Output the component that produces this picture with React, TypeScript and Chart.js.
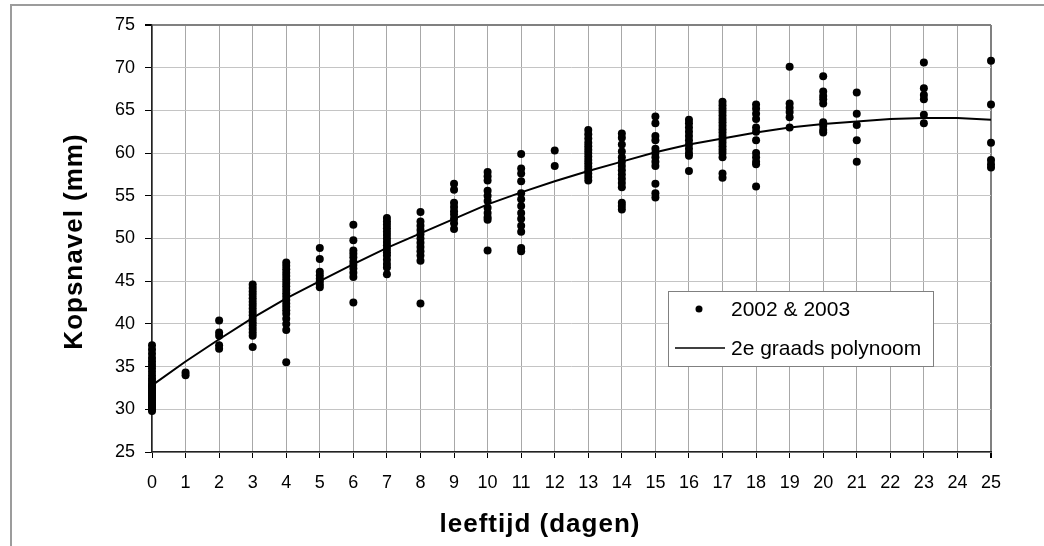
import React, { useEffect, useRef } from "react";
import { Chart, registerables } from "chart.js";

Chart.register(...registerables);

const FONT = '"Liberation Sans", Arial, Helvetica, sans-serif';

// Days (leeftijd) for each scatter column
const scatterDays = [0, 1, 2, 3, 4, 5, 6, 7, 8, 9, 10, 11, 12, 13, 14, 15, 16, 17, 18, 19, 20, 21, 23, 25];

// Kopsnavel (mm) measurements per day column (same order as scatterDays)
const day0 = [29.8, 30.0, 30.2, 30.4, 30.6, 30.8, 31.0, 31.2, 31.4, 31.6, 31.8, 32.0, 32.2, 32.4, 32.6, 32.8, 33.0, 33.3, 33.6, 34.0, 34.4, 34.8, 35.2, 35.6, 36.0, 36.5, 37.0, 37.5];
const day1 = [34.0, 34.3];
const day2 = [40.4, 39.0, 38.6, 37.5, 37.1];
const day3 = [44.6, 44.2, 43.8, 43.4, 43.0, 42.6, 42.2, 41.8, 41.4, 41.0, 40.6, 40.2, 39.8, 39.4, 39.0, 38.6, 37.3];
const day4 = [47.2, 46.8, 46.4, 46.0, 45.6, 45.2, 44.8, 44.4, 44.0, 43.6, 43.2, 42.8, 42.4, 42.0, 41.6, 41.2, 40.6, 40.0, 39.3, 35.5];
const day5 = [48.9, 47.6, 46.1, 45.7, 45.3, 45.0, 44.6, 44.3];
const day6 = [51.6, 49.8, 48.6, 48.2, 47.8, 47.3, 46.9, 46.5, 46.0, 45.5, 42.5];
const day7 = [52.4, 52.0, 51.6, 51.2, 50.8, 50.4, 50.0, 49.6, 49.2, 48.8, 48.4, 48.0, 47.5, 47.0, 46.6, 45.8];
const day8 = [53.1, 52.0, 51.5, 51.0, 50.5, 50.0, 49.5, 49.0, 48.5, 48.0, 47.4, 42.4];
const day9 = [56.4, 55.7, 54.2, 53.7, 53.2, 52.8, 52.3, 51.8, 51.1];
const day10 = [57.8, 57.3, 56.8, 55.6, 55.0, 54.4, 53.6, 53.0, 52.5, 52.2, 48.6];
const day11 = [59.9, 58.2, 57.6, 56.7, 55.3, 54.6, 53.8, 53.0, 52.3, 51.5, 50.8, 48.9, 48.5];
const day12 = [60.3, 58.5];
const day13 = [62.7, 62.2, 61.7, 61.2, 60.8, 60.4, 60.0, 59.6, 59.2, 58.8, 58.4, 58.0, 57.6, 57.2, 56.8];
const day14 = [62.3, 61.8, 61.0, 60.2, 59.5, 59.0, 58.5, 58.0, 57.5, 57.0, 56.5, 56.0, 54.2, 53.8, 53.4];
const day15 = [64.3, 63.5, 62.0, 61.5, 60.5, 60.0, 59.5, 59.0, 58.5, 56.4, 55.3, 54.8];
const day16 = [63.9, 63.5, 63.0, 62.5, 62.0, 61.5, 61.0, 60.5, 60.0, 59.7, 57.9];
const day17 = [66.0, 65.6, 65.2, 64.8, 64.4, 64.0, 63.6, 63.2, 62.8, 62.4, 62.0, 61.6, 61.2, 60.8, 60.4, 60.0, 59.5, 57.6, 57.1];
const day18 = [65.7, 65.2, 64.6, 64.0, 63.0, 62.5, 61.5, 60.0, 59.5, 59.0, 58.7, 56.1];
const day19 = [70.1, 65.8, 65.3, 64.8, 64.2, 63.0];
const day20 = [69.0, 67.2, 66.7, 66.3, 65.8, 63.6, 63.2, 62.7, 62.4];
const day21 = [67.1, 64.6, 63.3, 61.5, 59.0];
const day23 = [70.6, 67.6, 66.8, 66.3, 64.5, 63.5];
const day25 = [70.8, 65.7, 61.2, 59.2, 58.7, 58.3];

const scatterColumns = [day0, day1, day2, day3, day4, day5, day6, day7, day8, day9, day10, day11, day12, day13, day14, day15, day16, day17, day18, day19, day20, day21, day23, day25];

// 2e graads polynoom trend line, read at each day
const trendDays = [0, 1, 2, 3, 4, 5, 6, 7, 8, 9, 10, 11, 12, 13, 14, 15, 16, 17, 18, 19, 20, 21, 22, 23, 24, 25];
const trendValues = [32.8, 35.6, 38.2, 40.7, 43.0, 45.0, 47.0, 48.9, 50.6, 52.3, 54.0, 55.4, 56.7, 57.9, 59.0, 60.1, 61.0, 61.7, 62.4, 63.0, 63.4, 63.7, 64.0, 64.1, 64.1, 63.9];

const seriesLabels = ["2002 & 2003", "2e graads polynoom"];
const xTitle = "leeftijd (dagen)";
const yTitle = "Kopsnavel (mm)";

const decorPlugin = {
  id: "decor",
  beforeDraw(chart: any) {
    const ctx = chart.ctx;
    ctx.save();
    ctx.fillStyle = "#ffffff";
    ctx.fillRect(0, 0, chart.width, chart.height);
    ctx.strokeStyle = "#9c9c9c";
    ctx.lineWidth = 2;
    ctx.beginPath();
    ctx.moveTo(11, 546);
    ctx.lineTo(11, 5);
    ctx.lineTo(1044, 5);
    ctx.stroke();
    ctx.restore();
  },
  afterDraw(chart: any) {
    const ctx = chart.ctx;
    const area = chart.chartArea;
    ctx.save();
    // Axis titles
    ctx.fillStyle = "#000";
    ctx.font = `bold 26px ${FONT}`;
    ctx.textAlign = "center";
    ctx.textBaseline = "middle";
    try { (ctx as any).letterSpacing = "1px"; } catch (e) {}
    ctx.fillText(xTitle, 540, 525);
    ctx.save();
    ctx.translate(75, (area.top + area.bottom) / 2 + 3);
    ctx.rotate(-Math.PI / 2);
    ctx.fillText(yTitle, 0, 0);
    ctx.restore();
    try { (ctx as any).letterSpacing = "0px"; } catch (e) {}

    // Legend box
    const lx = 668, ly = 291, lw = 265, lh = 75;
    ctx.fillStyle = "#ffffff";
    ctx.fillRect(lx, ly, lw, lh);
    ctx.strokeStyle = "#808080";
    ctx.lineWidth = 1;
    ctx.strokeRect(lx + 0.5, ly + 0.5, lw, lh);

    ctx.fillStyle = "#000";
    ctx.beginPath();
    ctx.arc(699, 309, 3.5, 0, Math.PI * 2);
    ctx.fill();

    ctx.strokeStyle = "#000";
    ctx.lineWidth = 1.5;
    ctx.beginPath();
    ctx.moveTo(675, 348);
    ctx.lineTo(725, 348);
    ctx.stroke();

    ctx.font = `21px ${FONT}`;
    ctx.textAlign = "left";
    ctx.textBaseline = "middle";
    ctx.fillText(seriesLabels[0], 731, 310);
    ctx.fillText(seriesLabels[1], 731, 349);
    ctx.restore();
  },
};

export default function App() {
  const canvasRef = useRef<HTMLCanvasElement | null>(null);

  useEffect(() => {
    const canvas = canvasRef.current;
    if (!canvas) return;

    const scatterPoints: { x: number; y: number }[] = [];
    scatterDays.forEach((d, i) => {
      scatterColumns[i].forEach((v) => scatterPoints.push({ x: d, y: v }));
    });
    const trendPoints = trendDays.map((d, i) => ({ x: d, y: trendValues[i] }));

    const chart = new Chart(canvas, {
      type: "scatter",
      data: {
        datasets: [
          {
            type: "line" as any,
            label: seriesLabels[1],
            data: trendPoints,
            borderColor: "#000",
            borderWidth: 2,
            pointRadius: 0,
            showLine: true,
            tension: 0,
            fill: false,
            clip: false as any,
            order: 2,
          },
          {
            label: seriesLabels[0],
            data: scatterPoints,
            backgroundColor: "#000",
            borderColor: "#000",
            borderWidth: 0,
            pointRadius: 4,
            pointHoverRadius: 4,
            clip: false as any,
            order: 1,
          },
        ],
      },
      options: {
        responsive: false,
        animation: false,
        devicePixelRatio: 1,
        layout: { padding: { left: 0, top: 25, right: 53, bottom: 0 } },
        plugins: {
          legend: { display: false },
          tooltip: { enabled: false },
          title: { display: false },
        },
        scales: {
          x: {
            type: "linear",
            min: 0,
            max: 25,
            afterFit: (s: any) => { s.height = 94; },
            ticks: {
              stepSize: 1,
              color: "#000",
              font: { family: FONT, size: 18 },
              padding: 14,
              maxRotation: 0,
              autoSkip: false,
            },
            grid: {
              color: (c: any) => (c.tick && c.tick.value === 25 ? "#808080" : "#a8a8a8"),
              lineWidth: (c: any) => (c.tick && c.tick.value === 25 ? 2 : 1),
              tickLength: 6,
              tickColor: "#000",
              drawTicks: true,
            },
            border: { color: "#222", width: 1.5 },
          },
          y: {
            type: "linear",
            min: 25,
            max: 75,
            afterFit: (s: any) => { s.width = 152; },
            ticks: {
              stepSize: 5,
              color: "#000",
              font: { family: FONT, size: 18 },
              padding: 10,
            },
            grid: {
              color: (c: any) => (c.tick && c.tick.value === 75 ? "#808080" : "#c4c4c4"),
              lineWidth: (c: any) => (c.tick && c.tick.value === 75 ? 2 : 1),
              tickLength: 7,
              tickColor: "#000",
              drawTicks: true,
            },
            border: { color: "#222", width: 1.5 },
          },
        },
      },
      plugins: [decorPlugin],
    });

    return () => chart.destroy();
  }, []);

  return (
    <div style={{ position: "absolute", left: 0, top: 0, width: 1044, height: 546, background: "#fff" }}>
      <canvas ref={canvasRef} width={1044} height={546} style={{ display: "block", width: 1044, height: 546 }} />
    </div>
  );
}
